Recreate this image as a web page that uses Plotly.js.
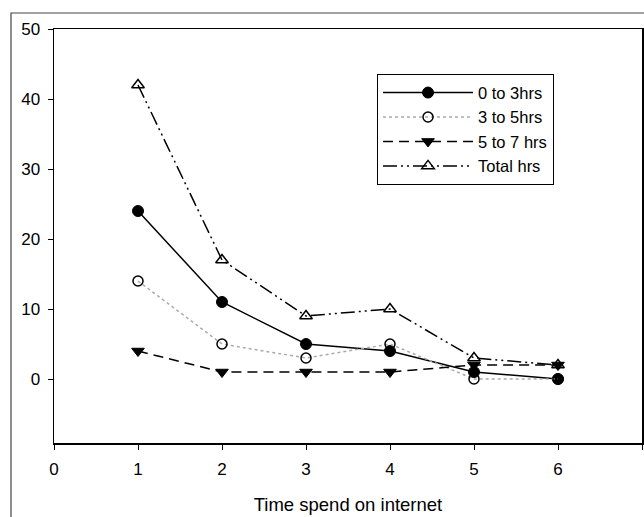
<!DOCTYPE html>
<html><head><meta charset="utf-8">
<script src="https://cdn.plot.ly/plotly-3.0.1.min.js"></script>
<style>html,body{margin:0;padding:0;background:#fff}#c{width:644px;height:517px}</style>
</head><body><div id="c"></div>
<script>
const xVals = [1, 2, 3, 4, 5, 6];
const seriesNames = ["0 to 3hrs", "3 to 5hrs", "5 to 7 hrs", "Total hrs"];
const s0to3 = [24, 11, 5, 4, 1, 0];
const s3to5 = [14, 5, 3, 5, 0, 0];
const s5to7 = [4, 1, 1, 1, 2, 2];
const sTotal = [42, 17, 9, 10, 3, 2];
const xTicks = [0, 1, 2, 3, 4, 5, 6, 7];
const yTicks = [0, 10, 20, 30, 40, 50];
const xTitle = "Time spend on internet";

const traces = [
  {x: xVals, y: s0to3, name: seriesNames[0], mode: "lines+markers",
   line: {color: "#000", width: 1.5, dash: "solid"},
   marker: {symbol: "circle", size: 11, color: "#000", line: {color: "#000", width: 1}}},
  {x: xVals, y: s3to5, name: seriesNames[1], mode: "lines+markers",
   line: {color: "#aaaaaa", width: 1.5, dash: "dot"},
   marker: {symbol: "circle-open", size: 10, color: "#000", line: {color: "#000", width: 1.5}}},
  {x: xVals, y: s5to7, name: seriesNames[2], mode: "lines+markers",
   line: {color: "#000", width: 1.5, dash: "10px,6px"},
   marker: {symbol: "triangle-down", size: 11, color: "#000", line: {color: "#000", width: 1}}},
  {x: xVals, y: sTotal, name: seriesNames[3], mode: "lines+markers",
   line: {color: "#000", width: 1.5, dash: "14px,4px,2px,4px,2px,4px"},
   marker: {symbol: "triangle-up-open", size: 11, color: "#000", line: {color: "#000", width: 1.5}}}
];

const layout = {
  width: 644, height: 517,
  margin: {l: 54, r: 2, t: 29, b: 74},
  paper_bgcolor: "#fff", plot_bgcolor: "#fff",
  font: {family: "Liberation Sans, Arial, sans-serif", size: 16, color: "#000"},
  showlegend: true,
  legend: {x: 0.549, y: 0.891, xanchor: "left", yanchor: "top",
    bordercolor: "#000", borderwidth: 1.2, bgcolor: "#fff",
    font: {size: 16.5}, itemwidth: 90, tracegroupgap: 0},
  xaxis: {range: [0, 7], tickvals: xTicks, ticktext: xTicks.map(String),
    tickfont: {size: 17}, ticklabelstandoff: 5,
    showgrid: false, zeroline: false, showline: true, linecolor: "#000", linewidth: 1.5,
    mirror: true, ticks: "outside", ticklen: 5, tickcolor: "#000", tickwidth: 1,
    title: {text: xTitle, font: {size: 18.5}, standoff: 20}},
  yaxis: {range: [-9.14, 50], tickvals: yTicks, ticktext: yTicks.map(String),
    tickfont: {size: 17}, ticklabelstandoff: 4,
    showgrid: false, zeroline: false, showline: true, linecolor: "#000", linewidth: 1.5,
    mirror: true, ticks: "outside", ticklen: 5, tickcolor: "#000", tickwidth: 1},
  shapes: [{type: "rect", xref: "paper", yref: "paper",
    x0: -43/588, x1: 1 + 10/588, y0: -90/414, y1: 1 + 16/414,
    line: {color: "#444", width: 1.2}, fillcolor: "rgba(0,0,0,0)", layer: "below"}]
};
Plotly.newPlot("c", traces, layout, {displayModeBar: false, staticPlot: true});
</script></body></html>
